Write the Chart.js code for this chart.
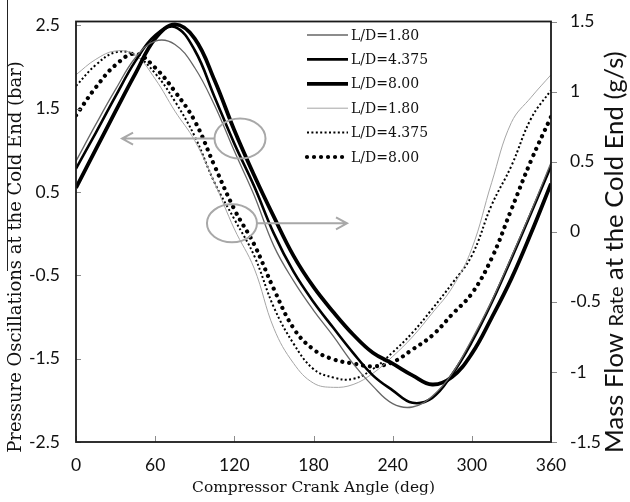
<!DOCTYPE html>
<html>
<head>
<meta charset="utf-8">
<script src="https://cdn.jsdelivr.net/npm/chart.js@4.4.1/dist/chart.umd.min.js"></script>
<style>
  html, body { margin: 0; padding: 0; background: #fff; }
  #wrap { width: 630px; height: 502px; position: relative; }
</style>
</head>
<body>
<div id="wrap"><canvas id="chart"></canvas></div>
<script>
// crank angle (deg), every 15 deg
const angles = [0, 15, 30, 45, 60, 75, 90, 105, 120, 135, 150, 165, 180,
                195, 210, 225, 240, 255, 270, 285, 300, 315, 330, 345, 360];

// pressure oscillations at the cold end (bar) - left axis
const pressure180  = [0.87, 1.31, 1.73, 2.11, 2.31, 2.27, 1.99, 1.54, 0.99, 0.46, -0.15, -0.57, -0.92,
                      -1.23, -1.56, -1.83, -2.04, -2.08, -1.95, -1.68, -1.27, -0.81, -0.28, 0.27, 0.85];
const pressure4375 = [0.78, 1.21, 1.65, 2.07, 2.38, 2.48, 2.20, 1.64, 1.08, 0.57, 0.00, -0.46, -0.82,
                      -1.13, -1.43, -1.70, -1.88, -2.03, -1.97, -1.69, -1.30, -0.83, -0.30, 0.25, 0.81];
const pressure800  = [0.55, 1.01, 1.47, 1.92, 2.34, 2.51, 2.34, 1.84, 1.24, 0.70, 0.20, -0.27, -0.64,
                      -0.94, -1.21, -1.43, -1.56, -1.70, -1.81, -1.72, -1.44, -1.01, -0.54, 0.01, 0.60];

// mass flow rate at the cold end (g/s) - right axis
const flow180  = [1.12, 1.23, 1.29, 1.26, 1.09, 0.86, 0.65, 0.35, 0.02, -0.26, -0.69, -0.94, -1.08,
                  -1.11, -1.09, -1.01, -0.89, -0.75, -0.58, -0.40, -0.12, 0.35, 0.78, 0.96, 1.12];
const flow4375 = [1.04, 1.19, 1.28, 1.26, 1.13, 0.93, 0.68, 0.35, 0.09, -0.17, -0.54, -0.80, -0.98,
                  -1.04, -1.05, -0.98, -0.86, -0.72, -0.55, -0.37, -0.17, 0.19, 0.47, 0.81, 1.01];
const flow800  = [0.83, 1.03, 1.19, 1.27, 1.17, 1.00, 0.79, 0.47, 0.16, -0.09, -0.41, -0.69, -0.84,
                  -0.91, -0.94, -0.96, -0.93, -0.84, -0.74, -0.59, -0.44, -0.19, 0.16, 0.51, 0.82];

const labels = ["L/D=1.80", "L/D=4.375", "L/D=8.00", "L/D=1.80", "L/D=4.375", "L/D=8.00"];

const xTicks = [0, 60, 120, 180, 240, 300, 360];
const leftTicks = [-2.5, -1.5, -0.5, 0.5, 1.5, 2.5];
const rightTicks = [-1.5, -1, -0.5, 0, 0.5, 1, 1.5];

const sans = "Lato";
const serif = "DejaVu Serif";
const tickFont = { family: sans, size: 17.5 };

function toPoints(values){
    return angles.map((a, i) => ({ x: a, y: values[i] }));
}

// font size that makes the text span the given pixel length
function fitSize(ctx, text, family, length){
    ctx.font = `100px "${family}"`;
    return 100 * length / ctx.measureText(text).width;
}

//-----------------------------------------------------------------------------
// frame, inward/outward tick marks, the two call-out ellipses with arrows,
// the legend and the axis titles
//-----------------------------------------------------------------------------
const decorations = {
    id: "decorations",
    afterDatasetsDraw(chart){
        const { ctx, chartArea: a, scales } = chart;
        ctx.save();

        // tick marks
        ctx.strokeStyle = "#8c8c8c";
        ctx.lineWidth = 1;
        ctx.setLineDash([]);
        leftTicks.forEach(v => {
            const y = Math.round(scales.y.getPixelForValue(v)) + 0.5;
            ctx.beginPath(); ctx.moveTo(a.left, y); ctx.lineTo(a.left + 5, y); ctx.stroke();
        });
        xTicks.forEach(v => {
            const x = Math.round(scales.x.getPixelForValue(v)) + 0.5;
            ctx.beginPath(); ctx.moveTo(x, a.bottom); ctx.lineTo(x, a.bottom - 6); ctx.stroke();
        });
        rightTicks.forEach(v => {
            const y = Math.round(scales.y1.getPixelForValue(v)) + 0.5;
            ctx.beginPath(); ctx.moveTo(a.right, y); ctx.lineTo(a.right + 6, y); ctx.stroke();
        });

        // frame
        ctx.strokeStyle = "#1a1a1a";
        ctx.lineWidth = 1.8;
        ctx.strokeRect(a.left, a.top, a.right - a.left, a.bottom - a.top);

        // call-outs (gray ellipse + arrow)
        ctx.strokeStyle = "#a8a8a8";
        ctx.lineWidth = 2;
        const callouts = [
            { cx: 124.3, cy: 1.14, axis: "y",  rx: 25.5, ry: 20, from: 105.3, to: 34.9 },
            { cx: 118.2, cy: 0.06, axis: "y1", rx: 25,   ry: 19, from: 137.2, to: 205.4 }
        ];
        callouts.forEach(c => {
            const cx = scales.x.getPixelForValue(c.cx);
            const cy = scales[c.axis].getPixelForValue(c.cy);
            ctx.beginPath();
            ctx.ellipse(cx, cy, c.rx, c.ry, 0, 0, Math.PI * 2);
            ctx.stroke();
            const x0 = scales.x.getPixelForValue(c.from);
            const x1 = scales.x.getPixelForValue(c.to);
            const dir = x1 > x0 ? 1 : -1;
            ctx.beginPath();
            ctx.moveTo(x0, cy); ctx.lineTo(x1, cy);
            ctx.moveTo(x1 - dir * 11, cy - 6); ctx.lineTo(x1, cy); ctx.lineTo(x1 - dir * 11, cy + 6);
            ctx.stroke();
        });

        // legend
        ctx.font = `14px "${serif}"`;
        ctx.textBaseline = "middle";
        ctx.textAlign = "left";
        ctx.fillStyle = "#111";
        chart.data.datasets.forEach((ds, i) => {
            const y = 35 + i * 24.4;
            ctx.strokeStyle = ds.borderColor;
            ctx.lineWidth = ds.borderWidth;
            ctx.lineCap = ds.borderCapStyle || "butt";
            ctx.setLineDash(ds.borderDash || []);
            ctx.beginPath(); ctx.moveTo(307, y); ctx.lineTo(348, y); ctx.stroke();
            ctx.setLineDash([]);
            ctx.fillText(ds.label, 351, y + 1);
        });
        ctx.restore();
    },
    afterDraw(chart){
        const { ctx, chartArea: a } = chart;
        ctx.save();
        ctx.fillStyle = "#111";
        ctx.textBaseline = "middle";
        ctx.textAlign = "center";

        // x title
        const xTitle = "Compressor Crank Angle (deg)";
        ctx.font = `${fitSize(ctx, xTitle, serif, 243)}px "${serif}"`;
        ctx.fillText(xTitle, (a.left + a.right) / 2, 488);

        // left title
        const yTitle = "Pressure Oscillations at the Cold End (bar)";
        const ySize = fitSize(ctx, yTitle, serif, 392);
        ctx.save();
        ctx.translate(16, 257);
        ctx.rotate(-Math.PI / 2);
        ctx.font = `${ySize}px "${serif}"`;
        ctx.fillText(yTitle, 0, 0);
        ctx.restore();

        // right title, "Rate" set smaller like the original
        const parts = [["Mass Flow ", 1], ["Rate", 0.78], [" at the Cold End (g/s)", 1]];
        let unit = 0;
        parts.forEach(p => { ctx.font = `${100 * p[1]}px "${sans}"`; unit += ctx.measureText(p[0]).width / 100; });
        const base = 402 / unit;
        ctx.save();
        ctx.translate(617, 252);
        ctx.rotate(-Math.PI / 2);
        ctx.textAlign = "left";
        ctx.textBaseline = "alphabetic";
        let x = -201;
        parts.forEach(p => {
            ctx.font = `${base * p[1]}px "${sans}"`;
            ctx.fillText(p[0], x, 6);
            x += ctx.measureText(p[0]).width;
        });
        ctx.restore();

        // stray scan line at the far left of the original
        ctx.strokeStyle = "#222";
        ctx.lineWidth = 1;
        ctx.beginPath(); ctx.moveTo(7.5, 0); ctx.lineTo(7.5, 271); ctx.stroke();
        ctx.restore();
    }
};

const ctx = document.getElementById("chart").getContext("2d");
new Chart(ctx, {
    type: "line",
    data: {
        datasets: [
            { label: labels[0], data: toPoints(pressure180),  yAxisID: "y",
              borderColor: "#666", borderWidth: 1.3 },
            { label: labels[1], data: toPoints(pressure4375), yAxisID: "y",
              borderColor: "#000", borderWidth: 2.6 },
            { label: labels[2], data: toPoints(pressure800),  yAxisID: "y",
              borderColor: "#000", borderWidth: 3.8 },
            { label: labels[3], data: toPoints(flow180),  yAxisID: "y1",
              borderColor: "#a6a6a6", borderWidth: 1 },
            { label: labels[4], data: toPoints(flow4375), yAxisID: "y1",
              borderColor: "#000", borderWidth: 2, borderDash: [2, 2.4] },
            { label: labels[5], data: toPoints(flow800),  yAxisID: "y1",
              borderColor: "#000", borderWidth: 4.2, borderDash: [0.01, 7], borderCapStyle: "round" }
        ]
    },
    options: {
        responsive: true,
        maintainAspectRatio: false,
        animation: false,
        layout: { padding: { top: 13, left: 0, right: 0, bottom: 0 } },
        elements: {
            point: { radius: 0 },
            line: { tension: 0.4, fill: false }
        },
        plugins: {
            legend: { display: false },
            tooltip: { enabled: false }
        },
        scales: {
            x: {
                type: "linear",
                min: 0,
                max: 360,
                afterBuildTicks: s => { s.ticks = xTicks.map(v => ({ value: v })); },
                afterFit: s => { s.height = 60; },
                grid: { display: false },
                border: { display: false },
                ticks: { font: tickFont, color: "#111", padding: 5, maxRotation: 0 }
            },
            y: {
                position: "left",
                min: -2.5,
                max: 2.545,
                afterBuildTicks: s => { s.ticks = leftTicks.map(v => ({ value: v })); },
                afterFit: s => { s.width = 76; },
                grid: { display: false },
                border: { display: false },
                ticks: { font: tickFont, color: "#111", padding: 8, callback: v => String(v) }
            },
            y1: {
                position: "right",
                min: -1.5,
                max: 1.5,
                afterBuildTicks: s => { s.ticks = rightTicks.map(v => ({ value: v })); },
                afterFit: s => { s.width = 79; },
                grid: { display: false },
                border: { display: false },
                ticks: { font: tickFont, color: "#111", padding: 11, callback: v => String(v) }
            }
        }
    },
    plugins: [decorations]
});
</script>
</body>
</html>
